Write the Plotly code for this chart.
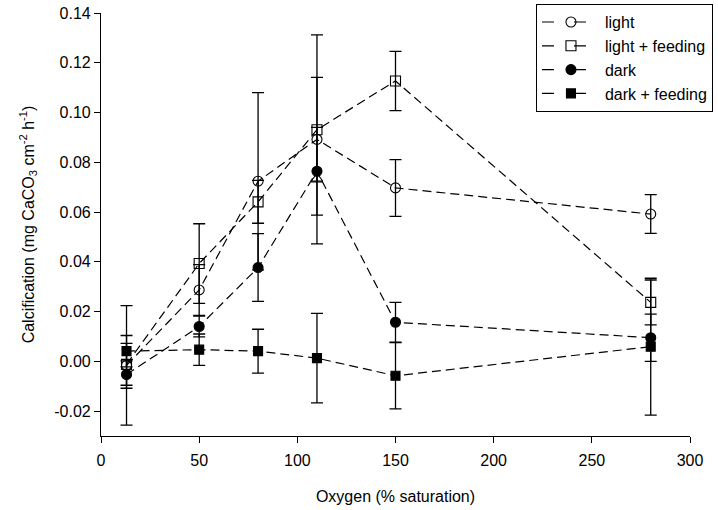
import plotly.graph_objects as go

oxygen = [13, 50, 80, 110, 150, 280]

light = [-0.0016, 0.0287, 0.0724, 0.0892, 0.0697, 0.0592]
light_err = [0.0240, 0.0102, 0.0356, 0.0420, 0.0114, 0.0078]

light_feeding = [-0.0012, 0.0393, 0.0641, 0.0931, 0.1127, 0.0237]
light_feeding_err = [0.0084, 0.0160, 0.0086, 0.0210, 0.0119, 0.0090]

dark = [-0.0053, 0.0140, 0.0377, 0.0764, 0.0157, 0.0095]
dark_err = [0.0055, 0.0042, 0.0136, 0.0176, 0.0080, 0.0095]

dark_feeding = [0.0041, 0.0047, 0.0041, 0.0013, -0.0058, 0.0059]
dark_feeding_err = [0.0063, 0.0063, 0.0088, 0.0180, 0.0133, 0.0275]

# stray open triangle visible at 110 % in the original
extra_x = [110]
extra_y = [0.0735]

x_ticks = [0, 50, 100, 150, 200, 250, 300]
y_ticks = [-0.02, 0.00, 0.02, 0.04, 0.06, 0.08, 0.10, 0.12, 0.14]
y_ticktext = ["-0.02", "0.00", "0.02", "0.04", "0.06", "0.08", "0.10", "0.12", "0.14"]

FONT = "Liberation Sans, Arial, sans-serif"
DASH = "9px,5px"

series = [
    ("light", light, light_err, "circle-open", 10),
    ("light + feeding", light_feeding, light_feeding_err, "square-open", 10),
    ("dark", dark, dark_err, "circle", 10),
    ("dark + feeding", dark_feeding, dark_feeding_err, "square", 9),
]

fig = go.Figure()
for name, vals, errs, sym, sz in series:
    fig.add_trace(go.Scatter(
        x=oxygen, y=vals, name=name, mode="lines+markers", showlegend=False,
        line=dict(color="black", width=1.2, dash=DASH),
        marker=dict(symbol=sym, size=sz, color="black", line=dict(color="black", width=1.1)),
        error_y=dict(type="data", array=errs, visible=True, color="black", thickness=1.3, width=6),
    ))

fig.add_trace(go.Scatter(
    x=extra_x, y=extra_y, mode="markers", showlegend=False,
    marker=dict(symbol="triangle-up-open", size=10, color="black", line=dict(color="black", width=1.1)),
))

# legend-only entries (line — marker — line look)
for name, vals, errs, sym, sz in series:
    fig.add_trace(go.Scatter(
        x=[None], y=[None], name=name, mode="lines+markers",
        line=dict(color="black", width=1.2, dash="12px,20px"),
        marker=dict(symbol=sym, size=sz, color="black", line=dict(color="black", width=1.1)),
    ))

axis_common = dict(
    showline=True, linecolor="black", linewidth=1.2, mirror=False,
    ticks="outside", ticklen=6, tickwidth=1.2, tickcolor="black",
    showgrid=False, zeroline=False, automargin=False,
    ticklabeloverflow="allow",
    tickfont=dict(family=FONT, size=16, color="black"),
)

fig.update_layout(
    width=718, height=510,
    margin=dict(l=101, r=28, t=13, b=74, autoexpand=False),
    paper_bgcolor="white", plot_bgcolor="white",
    font=dict(family=FONT, size=16, color="black"),
    xaxis=dict(range=[0, 300], tickvals=x_ticks, ticklabelstandoff=4,
               title=dict(text="Oxygen (% saturation)", font=dict(family=FONT, size=16), standoff=22),
               **axis_common),
    yaxis=dict(range=[-0.03, 0.14], tickvals=y_ticks, ticktext=y_ticktext,
               title=dict(text="Calcification (mg CaCO<sub>3</sub> cm<sup>-2</sup> h<sup>-1</sup>)",
                          font=dict(family=FONT, size=16), standoff=15),
               **axis_common),
    legend=dict(x=1.039, y=1.021, xanchor="right", yanchor="top",
                bgcolor="white", bordercolor="black", borderwidth=1,
                font=dict(family=FONT, size=16, color="black"),
                itemwidth=58, tracegroupgap=0),
    showlegend=True,
)

fig.write_html("out.html", config={"displayModeBar": False},
               post_script="document.body.style.margin='0px';")
